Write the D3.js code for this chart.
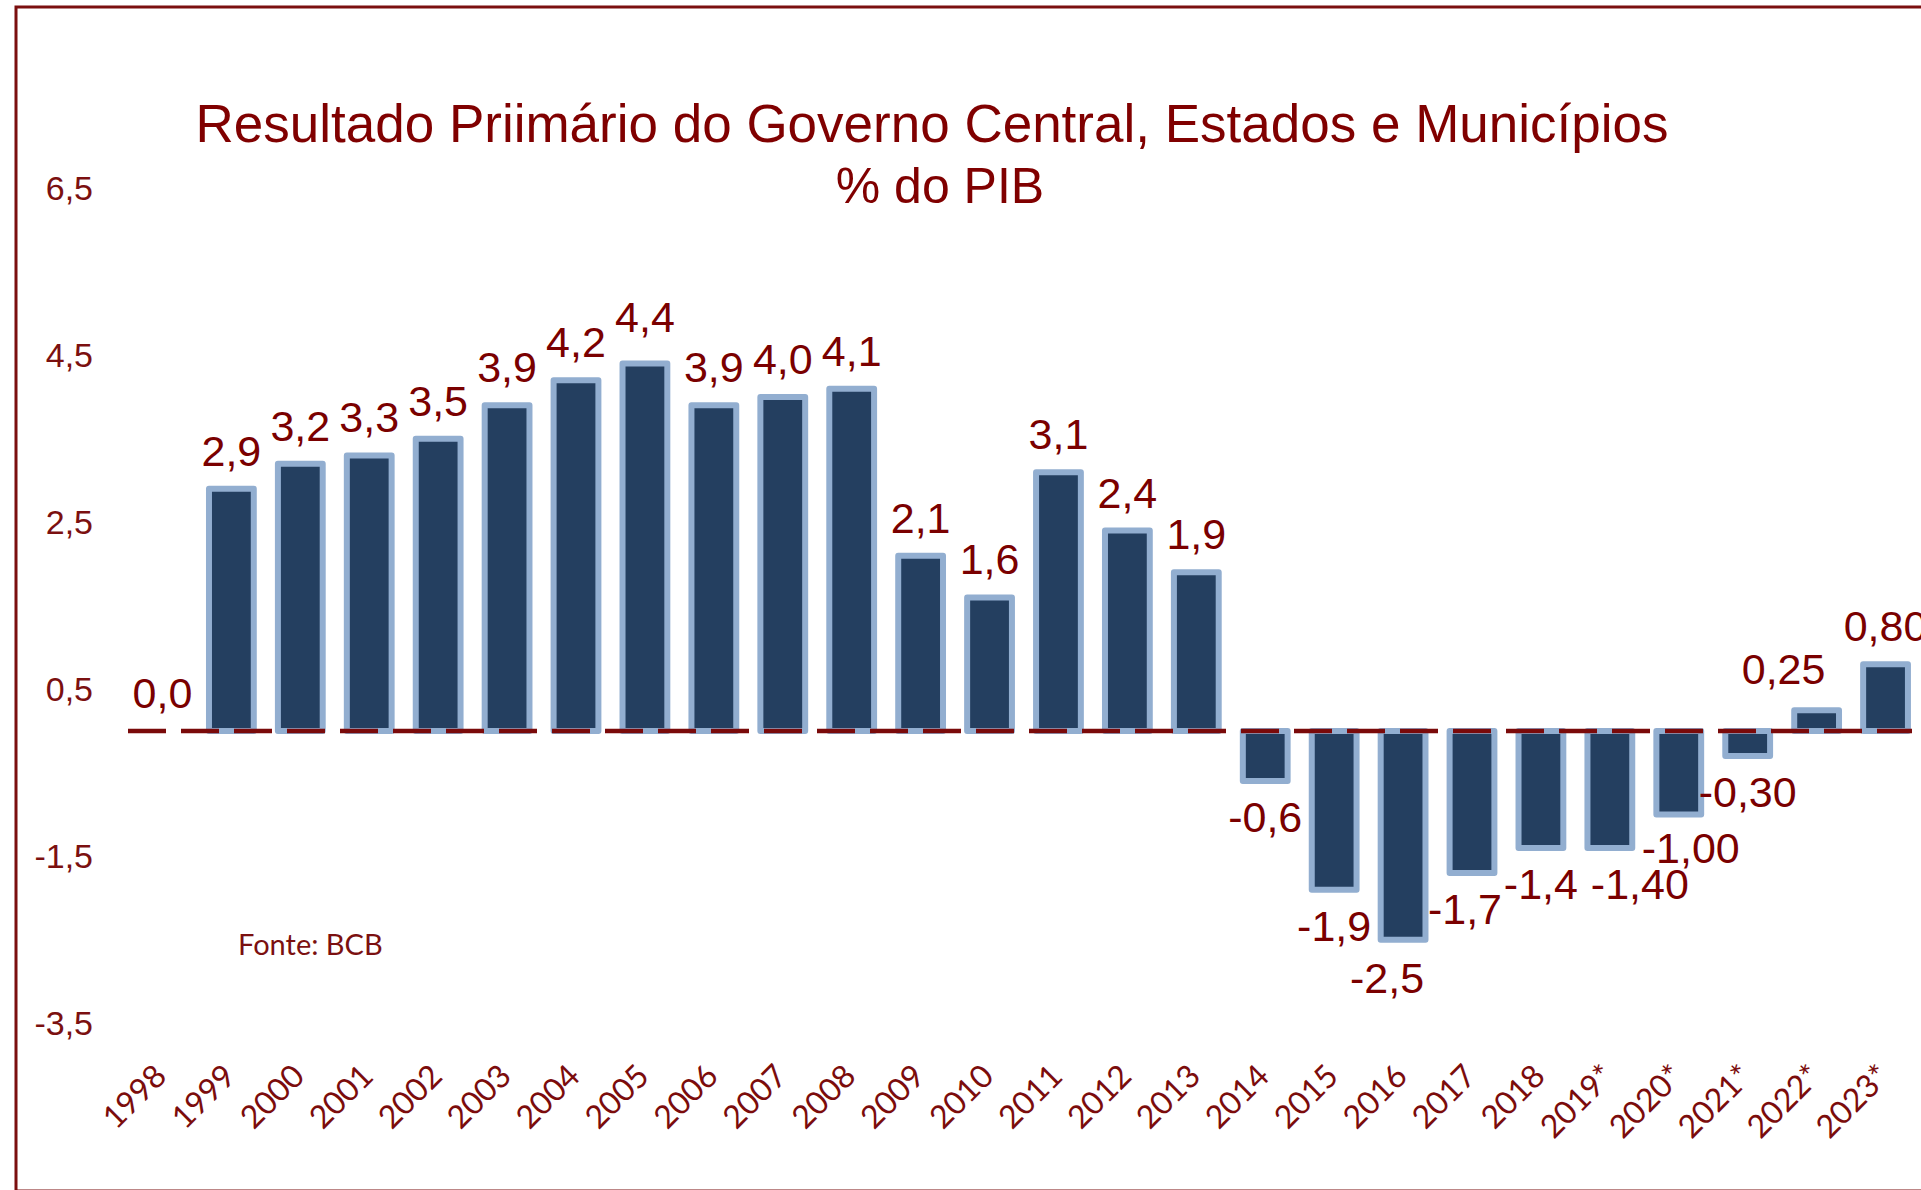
<!DOCTYPE html>
<html>
<head>
<meta charset="utf-8">
<script src="https://cdn.jsdelivr.net/npm/d3@7"></script>
<style>
  body { margin: 0; background: #fff; }
  svg { display: block; }
  .title { font-family: 'Liberation Sans', Arial, sans-serif; fill: #800000; }
  .yaxis text { font-family: 'Liberation Sans', Arial, sans-serif; font-size: 34px; fill: #7b1010; }
  .xaxis text { font-family: Lato, 'Open Sans', sans-serif; font-size: 32px; fill: #7b0c0c; }
  .value { font-family: 'Liberation Sans', Arial, sans-serif; font-size: 43px; fill: #7a0000; }
  .source { font-family: Lato, 'Open Sans', sans-serif; font-size: 29px; fill: #7b1010; }
</style>
</head>
<body>
<svg id="chart" width="1921" height="1190"></svg>
<script>
const categories = ['1998', '1999', '2000', '2001', '2002', '2003', '2004', '2005', '2006',
  '2007', '2008', '2009', '2010', '2011', '2012', '2013', '2014', '2015', '2016', '2017',
  '2018', '2019*', '2020*', '2021*', '2022*', '2023*'];
const values = [0.0, 2.9, 3.2, 3.3, 3.5, 3.9, 4.2, 4.4, 3.9, 4.0, 4.1, 2.1, 1.6, 3.1, 2.4, 1.9,
  -0.6, -1.9, -2.5, -1.7, -1.4, -1.4, -1.0, -0.3, 0.25, 0.8];
const yTicks = [-3.5, -1.5, 0.5, 2.5, 4.5, 6.5];

// a few labels were moved by hand in the original to avoid overlaps
const labelNudge = {
  '2005': [0, -9],
  '2016': [-16, 2],
  '2017': [-7, 0],
  '2019*': [30, 0],
  '2020*': [12, -3],
  '2022*': [-33, -3]
};

const rows = categories.map((c, i) => ({ cat: c, value: values[i] }));

const locale = d3.formatLocale({ decimal: ',', thousands: '.', grouping: [3], currency: ['R$', ''], minus: '-' });
const fmt1 = locale.format('.1f');
const fmt2 = locale.format('.2f');

const svg = d3.select('#chart');

// frame
svg.append('rect')
  .attr('x', 16).attr('y', 7)
  .attr('width', 1920).attr('height', 1184)
  .attr('fill', 'none')
  .attr('stroke', '#7b0f0f')
  .attr('stroke-width', 3);

const x = d3.scaleBand()
  .domain(categories)
  .range([128, 1920])
  .paddingInner(0.35)
  .paddingOuter(0.175);

const y = d3.scaleLinear()
  .domain([-3.5, 6.5])
  .range([1023.25, 188.25]);

// title
svg.append('text').attr('class', 'title')
  .attr('x', 932).attr('y', 142)
  .attr('text-anchor', 'middle')
  .attr('font-size', 53)
  .text('Resultado Priimário do Governo Central, Estados e Municípios');
svg.append('text').attr('class', 'title')
  .attr('x', 940).attr('y', 203)
  .attr('text-anchor', 'middle')
  .attr('font-size', 50)
  .text('% do PIB');

// y axis, labels only
let yAxis = svg.append('g').attr('class', 'yaxis')
  .attr('transform', 'translate(100,0)')
  .call(d3.axisLeft(y).tickValues(yTicks).tickFormat(fmt1).tickSize(0).tickPadding(7));
yAxis.select('.domain').remove();

// bars
svg.append('g').selectAll('rect')
  .data(rows)
  .enter().append('rect')
  .attr('x', d => x(d.cat))
  .attr('width', x.bandwidth())
  .attr('y', d => Math.min(y(d.value), y(0)))
  .attr('height', d => Math.abs(y(d.value) - y(0)))
  .attr('fill', '#243f60')
  .attr('stroke', '#92aed0')
  .attr('stroke-width', 6)
  .attr('stroke-linejoin', 'round');

// dashed zero line over the bars
svg.append('line')
  .attr('x1', 128).attr('x2', 1912)
  .attr('y1', y(0)).attr('y2', y(0))
  .attr('stroke', '#7a0a0a')
  .attr('stroke-width', 4.5)
  .attr('stroke-dasharray', '38,15');

// value labels
svg.append('g').selectAll('text')
  .data(rows)
  .enter().append('text')
  .attr('class', 'value')
  .attr('text-anchor', 'middle')
  .attr('x', d => x(d.cat) + x.bandwidth() / 2 + (labelNudge[d.cat] ? labelNudge[d.cat][0] : 0))
  .attr('y', d => (d.value < 0 ? y(d.value) + 51 : y(d.value) - 23) +
    (labelNudge[d.cat] ? labelNudge[d.cat][1] : 0))
  .text(d => d.cat.endsWith('*') ? fmt2(d.value) : fmt1(d.value));

// x axis, rotated year labels
let xAxis = svg.append('g').attr('class', 'xaxis')
  .attr('transform', 'translate(0,1078)')
  .call(d3.axisBottom(x).tickSize(0));
xAxis.select('.domain').remove();
xAxis.selectAll('text')
  .attr('x', 0).attr('y', 0).attr('dy', 0)
  .attr('text-anchor', 'end')
  .attr('transform', 'translate(6,0) rotate(-45)');

svg.append('text').attr('class', 'source')
  .attr('x', 238).attr('y', 955)
  .text('Fonte: BCB');
</script>
</body>
</html>
